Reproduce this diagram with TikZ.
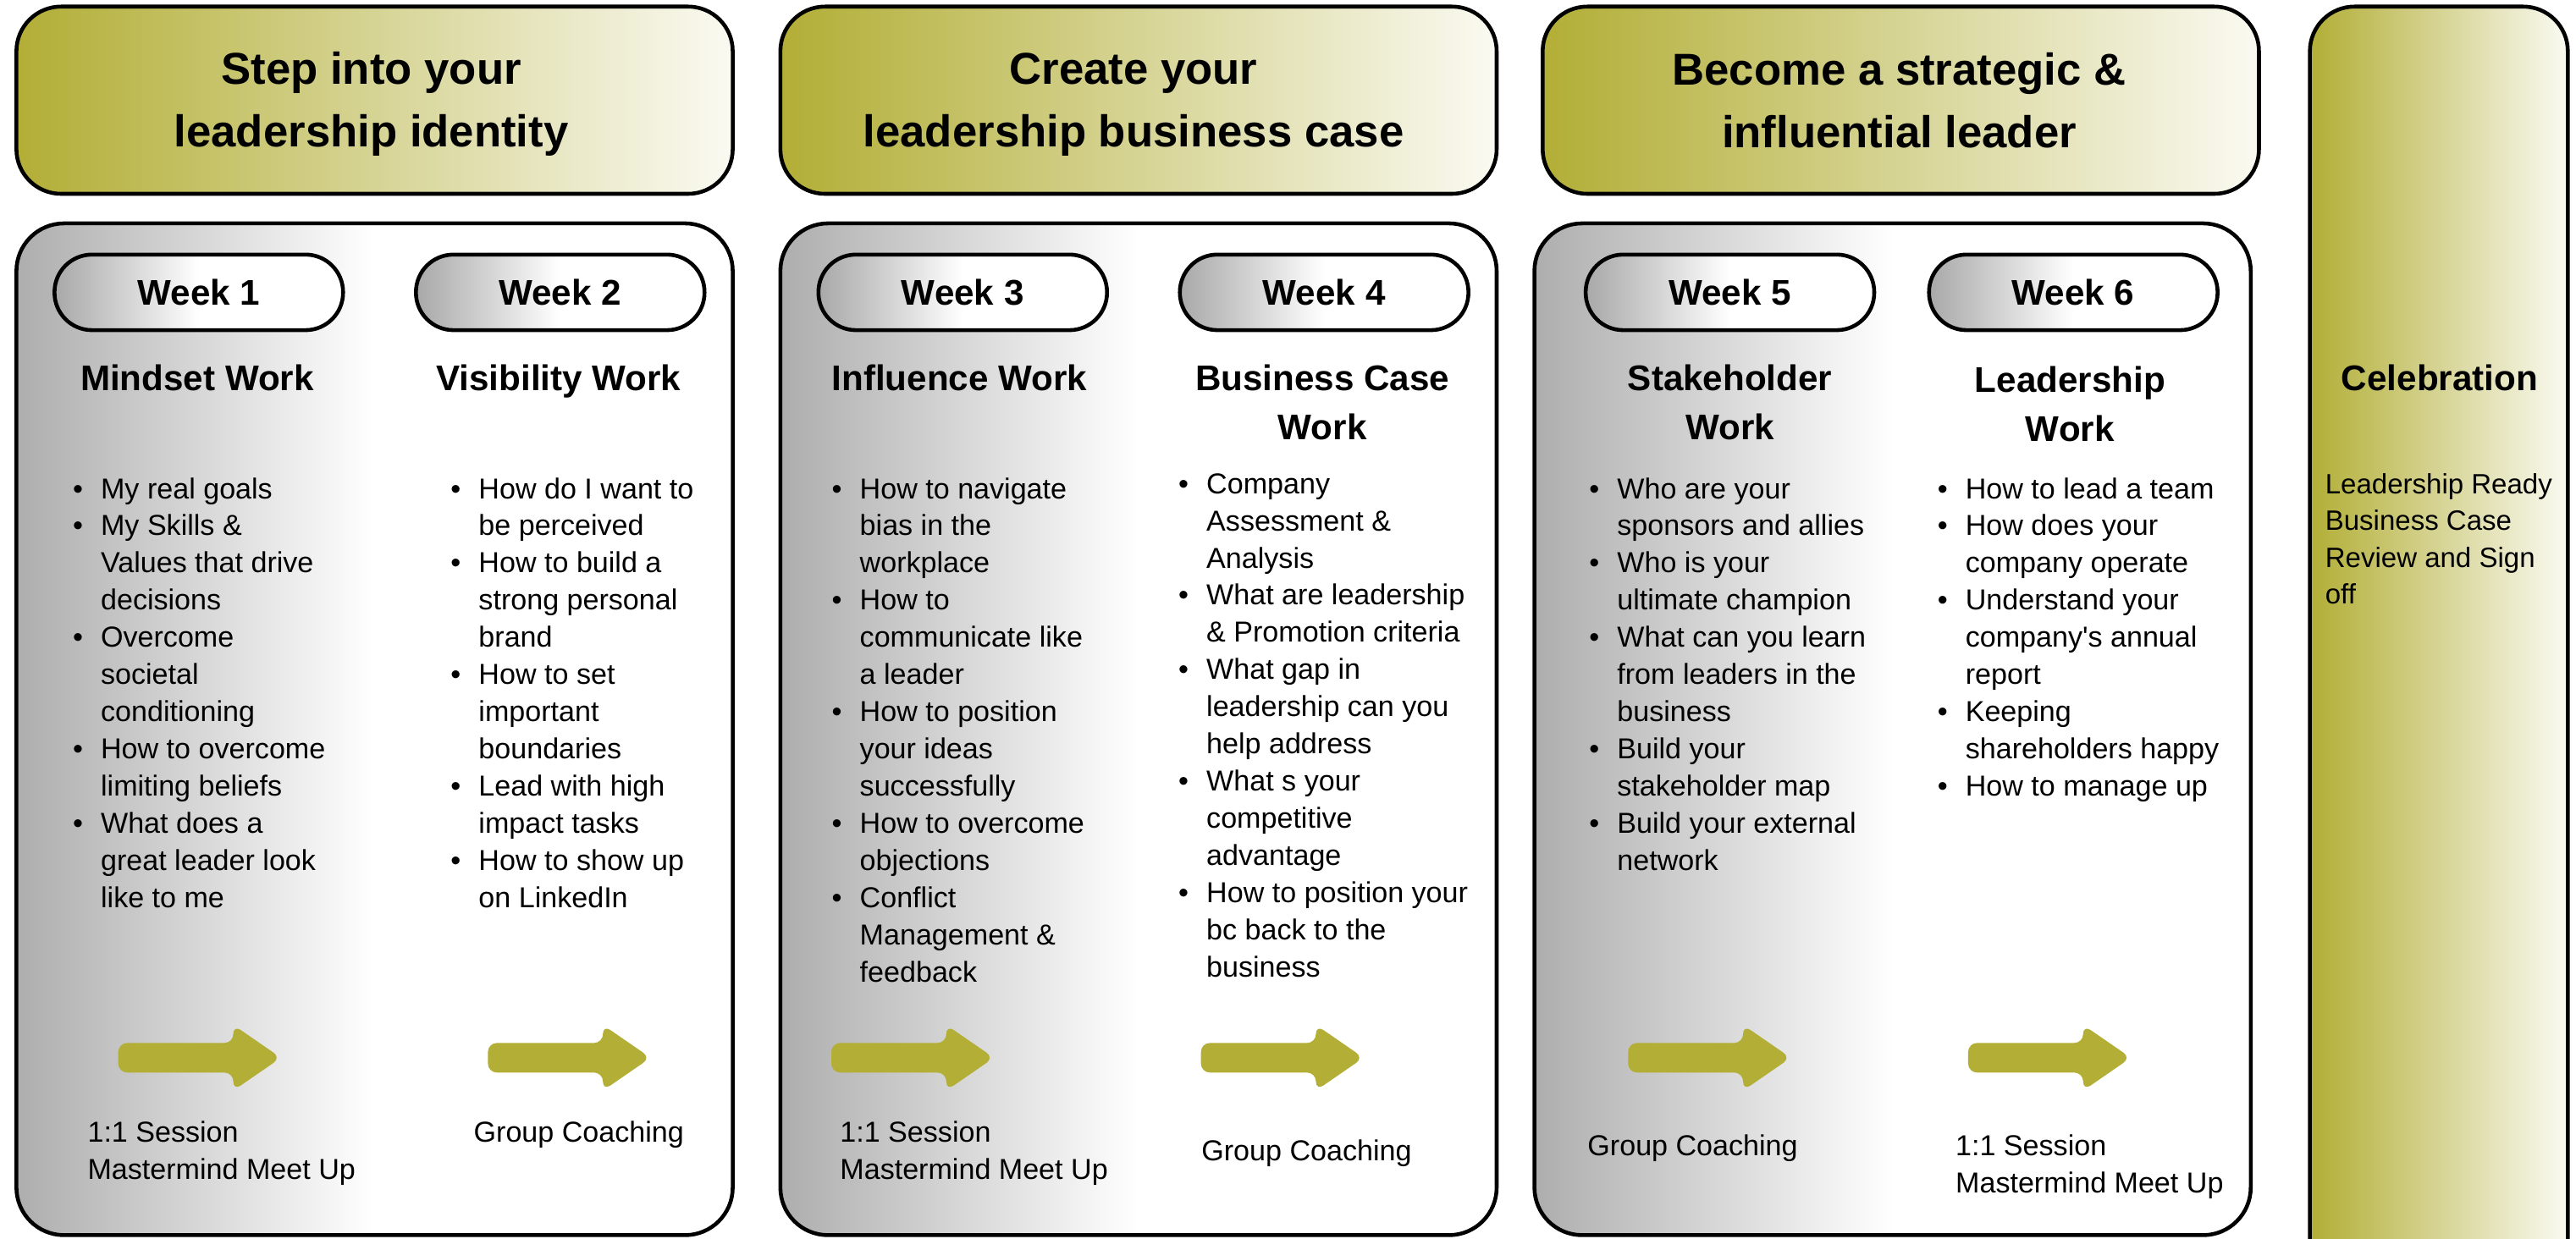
\documentclass[tikz,border=0pt]{standalone}
\usepackage{fontspec}
\setmainfont{Liberation Sans}
\usetikzlibrary{positioning}

\definecolor{olivec}{RGB}{178,174,54}
\definecolor{olivelt}{RGB}{250,250,242}
\newcommand{\bl}{\textbullet}

\tikzset{
  header/.style={draw, line width=1.3pt, rounded corners=15pt, left color=olivec, right color=olivelt},
  panel/.style={draw, line width=1.3pt, rounded corners=16pt, left color=black!32, right color=white, middle color=white},
  week/.style={draw, line width=1.3pt, rounded corners=12.6pt, minimum width=97pt, minimum height=25.4pt,
    left color=black!34, right color=white, middle color=white, font=\fontsize{12}{14}\selectfont\bfseries},
  title/.style={align=center, font=\fontsize{15}{21}\selectfont\bfseries},
  head/.style={align=center, font=\fontsize{12}{16.6}\selectfont\bfseries},
  body/.style={anchor=base west, inner sep=0pt, font=\fontsize{9.7}{12.5}\selectfont},
  pointer/.style={fill=olivec, rounded corners=3pt}
}

\begin{document}
\begin{tikzpicture}[x=0.019407cm, y=-0.019407cm]
  \useasboundingbox (0,0) rectangle (1568,754);
  \clip (0,0) rectangle (1568,754);

  % Draw the header boxes
  \draw[header] (10,4) rectangle (446,118);
  \draw[header] (475,4) rectangle (911,118);
  \draw[header] (939,4) rectangle (1375,118);

  % Draw the week panels
  \draw[panel] (10,136) rectangle (446,752);
  \draw[panel] (475,136) rectangle (911,752);
  \draw[panel] (934,136) rectangle (1370,752);

  % Draw the celebration column
  \draw[header] (1406,4) rectangle (1563,790);

  % Label the headers
  \node[title] (t1) at (226,63.5) {Step into your\\leadership identity};
  \node[title] (t2) at (690,63.5) {Create your\\leadership business case};
  \node[title] (t3) at (1156,61) {Become a strategic \&\\influential leader};

  % Week pills
  \node[week] (w1) at (121,178) {Week 1};
  \node[week] (w2) at (341,178) {Week 2};
  \node[week] (w3) at (586,178) {Week 3};
  \node[week] (w4) at (806,178) {Week 4};
  \node[week] (w5) at (1053,178) {Week 5};
  \node[week] (w6) at (1262,178) {Week 6};

  % Topic headings
  \node[head] (h1) at (120,230) {Mindset Work};
  \node[head] (h2) at (340,232) {Visibility Work};
  \node[head] (h3) at (584,230) {Influence Work};
  \node[head] (h4) at (805,245) {Business Case\\Work};
  \node[head] (h5) at (1053,245) {Stakeholder\\Work};
  \node[head] (h6) at (1260,246) {Leadership\\Work};
  \node[head] (hc) at (1485,230) {Celebration};

  % Bullet lists
  \node[body] (l1) at (44,303.5) {\begin{tabular}[t]{@{}l@{\hspace{6pt}}l@{}}
    \bl & My real goals\\
    \bl & My Skills \&\\
        & Values that drive\\
        & decisions\\
    \bl & Overcome\\
        & societal\\
        & conditioning\\
    \bl & How to overcome\\
        & limiting beliefs\\
    \bl & What does a\\
        & great leader look\\
        & like to me
  \end{tabular}};
  \node[body] (l2) at (274,303.5) {\begin{tabular}[t]{@{}l@{\hspace{6pt}}l@{}}
    \bl & How do I want to\\
        & be perceived\\
    \bl & How to build a\\
        & strong personal\\
        & brand\\
    \bl & How to set\\
        & important\\
        & boundaries\\
    \bl & Lead with high\\
        & impact tasks\\
    \bl & How to show up\\
        & on LinkedIn
  \end{tabular}};
  \node[body] (l3) at (506,303.5) {\begin{tabular}[t]{@{}l@{\hspace{6pt}}l@{}}
    \bl & How to navigate\\
        & bias in the\\
        & workplace\\
    \bl & How to\\
        & communicate like\\
        & a leader\\
    \bl & How to position\\
        & your ideas\\
        & successfully\\
    \bl & How to overcome\\
        & objections\\
    \bl & Conflict\\
        & Management \&\\
        & feedback
  \end{tabular}};
  \node[body] (l4) at (717,300.5) {\begin{tabular}[t]{@{}l@{\hspace{6pt}}l@{}}
    \bl & Company\\
        & Assessment \&\\
        & Analysis\\
    \bl & What are leadership\\
        & \& Promotion criteria\\
    \bl & What gap in\\
        & leadership can you\\
        & help address\\
    \bl & What s your\\
        & competitive\\
        & advantage\\
    \bl & How to position your\\
        & bc back to the\\
        & business
  \end{tabular}};
  \node[body] (l5) at (967,303.5) {\begin{tabular}[t]{@{}l@{\hspace{6pt}}l@{}}
    \bl & Who are your\\
        & sponsors and allies\\
    \bl & Who is your\\
        & ultimate champion\\
    \bl & What can you learn\\
        & from leaders in the\\
        & business\\
    \bl & Build your\\
        & stakeholder map\\
    \bl & Build your external\\
        & network
  \end{tabular}};
  \node[body] (l6) at (1179,303.5) {\begin{tabular}[t]{@{}l@{\hspace{6pt}}l@{}}
    \bl & How to lead a team\\
    \bl & How does your\\
        & company operate\\
    \bl & Understand your\\
        & company\textquotesingle s annual\\
        & report\\
    \bl & Keeping\\
        & shareholders happy\\
    \bl & How to manage up
  \end{tabular}};
  \node[body, font=\fontsize{9.4}{12.4}\selectfont] (lc) at (1415,300.5) {\begin{tabular}[t]{@{}l@{}}
    Leadership Ready\\
    Business Case\\
    Review and Sign\\
    off
  \end{tabular}};

  % Draw the arrows
  \foreach \x in {72,297,506,731,991,1198}
    \fill[pointer] (\x,635) -- (\x+70,635) -- (\x+70,624) -- (\x+99,644)
      -- (\x+70,664) -- (\x+70,653) -- (\x,653) -- cycle;

  % Session labels
  \node[body] (s1) at (53,695.5) {\begin{tabular}[t]{@{}l@{}}1:1 Session\\Mastermind Meet Up\end{tabular}};
  \node[body] (s2) at (288,695.5) {Group Coaching};
  \node[body] (s3) at (511,695.5) {\begin{tabular}[t]{@{}l@{}}1:1 Session\\Mastermind Meet Up\end{tabular}};
  \node[body] (s4) at (731,706.5) {Group Coaching};
  \node[body] (s5) at (966,703.5) {Group Coaching};
  \node[body] (s6) at (1190,703.5) {\begin{tabular}[t]{@{}l@{}}1:1 Session\\Mastermind Meet Up\end{tabular}};
\end{tikzpicture}
\end{document}
